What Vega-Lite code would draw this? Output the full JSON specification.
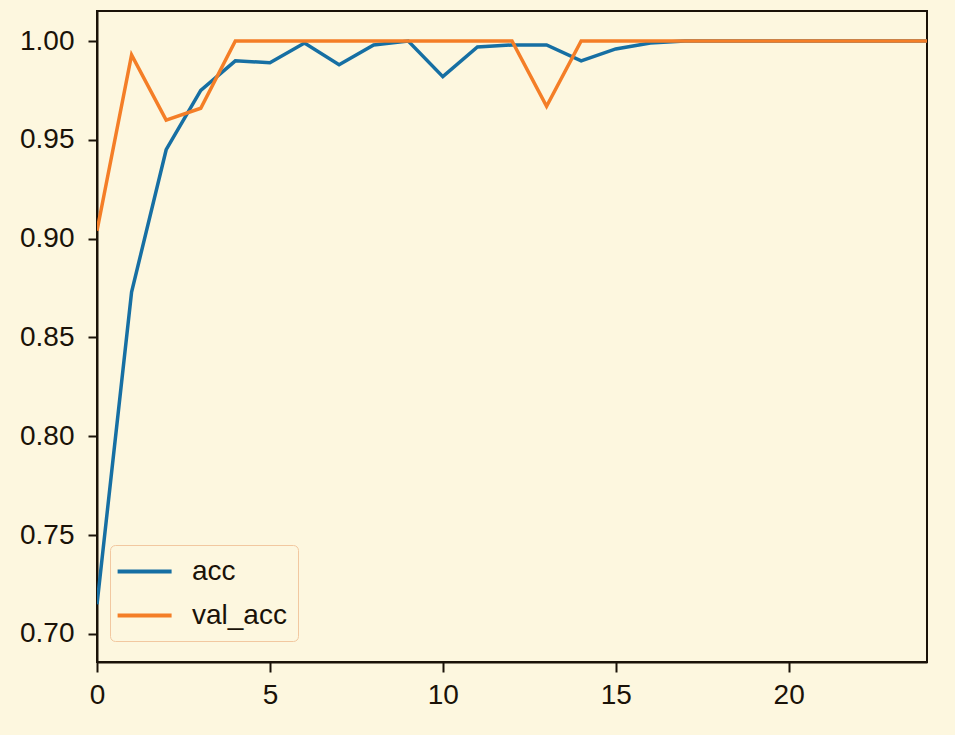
{
  "$schema": "https://vega.github.io/schema/vega-lite/v6.json",
  "autosize": {"type": "none"},
  "padding": {"left": 97, "top": 11, "right": 28, "bottom": 73},
  "width": 830,
  "height": 651,
  "background": "#fdf7df",
  "config": {
    "view": {"fill": "#fdf7df", "stroke": "#1a1208", "strokeWidth": 2},
    "axis": {
      "grid": false,
      "domainColor": "#1a1208",
      "domainWidth": 2,
      "tickColor": "#1a1208",
      "tickWidth": 2,
      "labelColor": "#1a1208",
      "labelFont": "Liberation Sans, sans-serif",
      "labelFontSize": 28,
      "labelFlush": false,
      "title": null
    }
  },
  "data": {
    "values": [
      {"epoch": 0, "series": "acc", "value": 0.715},
      {"epoch": 1, "series": "acc", "value": 0.873},
      {"epoch": 2, "series": "acc", "value": 0.945},
      {"epoch": 3, "series": "acc", "value": 0.975},
      {"epoch": 4, "series": "acc", "value": 0.990},
      {"epoch": 5, "series": "acc", "value": 0.989},
      {"epoch": 6, "series": "acc", "value": 0.999},
      {"epoch": 7, "series": "acc", "value": 0.988},
      {"epoch": 8, "series": "acc", "value": 0.998},
      {"epoch": 9, "series": "acc", "value": 1.0},
      {"epoch": 10, "series": "acc", "value": 0.982},
      {"epoch": 11, "series": "acc", "value": 0.997},
      {"epoch": 12, "series": "acc", "value": 0.998},
      {"epoch": 13, "series": "acc", "value": 0.998},
      {"epoch": 14, "series": "acc", "value": 0.990},
      {"epoch": 15, "series": "acc", "value": 0.996},
      {"epoch": 16, "series": "acc", "value": 0.999},
      {"epoch": 17, "series": "acc", "value": 1.0},
      {"epoch": 18, "series": "acc", "value": 1.0},
      {"epoch": 19, "series": "acc", "value": 1.0},
      {"epoch": 20, "series": "acc", "value": 1.0},
      {"epoch": 21, "series": "acc", "value": 1.0},
      {"epoch": 22, "series": "acc", "value": 1.0},
      {"epoch": 23, "series": "acc", "value": 1.0},
      {"epoch": 24, "series": "acc", "value": 1.0},
      {"epoch": 0, "series": "val_acc", "value": 0.904},
      {"epoch": 1, "series": "val_acc", "value": 0.993},
      {"epoch": 2, "series": "val_acc", "value": 0.960},
      {"epoch": 3, "series": "val_acc", "value": 0.966},
      {"epoch": 4, "series": "val_acc", "value": 1.0},
      {"epoch": 5, "series": "val_acc", "value": 1.0},
      {"epoch": 6, "series": "val_acc", "value": 1.0},
      {"epoch": 7, "series": "val_acc", "value": 1.0},
      {"epoch": 8, "series": "val_acc", "value": 1.0},
      {"epoch": 9, "series": "val_acc", "value": 1.0},
      {"epoch": 10, "series": "val_acc", "value": 1.0},
      {"epoch": 11, "series": "val_acc", "value": 1.0},
      {"epoch": 12, "series": "val_acc", "value": 1.0},
      {"epoch": 13, "series": "val_acc", "value": 0.967},
      {"epoch": 14, "series": "val_acc", "value": 1.0},
      {"epoch": 15, "series": "val_acc", "value": 1.0},
      {"epoch": 16, "series": "val_acc", "value": 1.0},
      {"epoch": 17, "series": "val_acc", "value": 1.0},
      {"epoch": 18, "series": "val_acc", "value": 1.0},
      {"epoch": 19, "series": "val_acc", "value": 1.0},
      {"epoch": 20, "series": "val_acc", "value": 1.0},
      {"epoch": 21, "series": "val_acc", "value": 1.0},
      {"epoch": 22, "series": "val_acc", "value": 1.0},
      {"epoch": 23, "series": "val_acc", "value": 1.0},
      {"epoch": 24, "series": "val_acc", "value": 1.0}
    ]
  },
  "mark": {"type": "line", "strokeWidth": 3.5, "clip": true},
  "encoding": {
    "x": {
      "field": "epoch",
      "type": "quantitative",
      "scale": {"domain": [0, 24], "nice": false, "zero": false},
      "axis": {"values": [0, 5, 10, 15, 20], "tickSize": 10, "labelPadding": 9, "format": "d"}
    },
    "y": {
      "field": "value",
      "type": "quantitative",
      "scale": {"domain": [0.6858, 1.0152], "nice": false, "zero": false},
      "axis": {"values": [0.70, 0.75, 0.80, 0.85, 0.90, 0.95, 1.00], "format": ".2f", "tickSize": 9, "labelPadding": 14}
    },
    "color": {
      "field": "series",
      "type": "nominal",
      "scale": {"domain": ["acc", "val_acc"], "range": ["#166fa3", "#f47e27"]},
      "legend": {
        "title": null,
        "orient": "none",
        "legendX": 13,
        "legendY": 534,
        "symbolType": "M-1.4,0H2.6",
        "symbolSize": 729,
        "symbolStrokeWidth": 4,
        "labelFont": "Liberation Sans, sans-serif",
        "labelFontSize": 28,
        "labelColor": "#1a1208",
        "labelOffset": 40,
        "rowPadding": 14,
        "padding": 11,
        "strokeColor": "#f2c8a0",
        "fillColor": "#fdf7df",
        "cornerRadius": 5
      }
    }
  }
}
